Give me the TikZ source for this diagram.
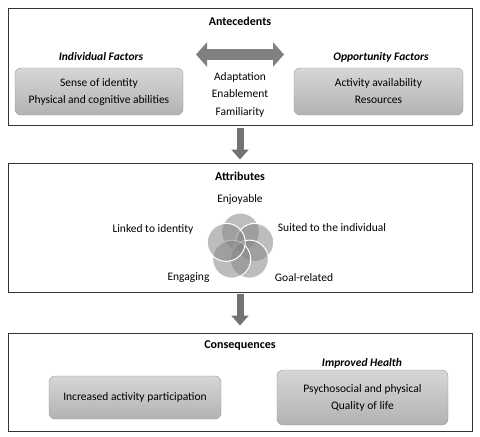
\documentclass[tikz,border=0pt]{standalone}
\usepackage{fontspec}
\setmainfont{Carlito}
\usetikzlibrary{arrows.meta, calc}
\tikzstyle{FrameBox}=[rectangle, draw=black!80, line width=1pt, fill=white]
\tikzstyle{GrayBox}=[rectangle, rounded corners=6pt, draw=black!40, top color=black!16, bottom color=black!30, align=center, font=\fontsize{11.5}{17}\selectfont]
\tikzstyle{TitleText}=[font=\fontsize{12}{14}\selectfont\bfseries]
\tikzstyle{HeadText}=[font=\fontsize{11.5}{14}\selectfont\bfseries\itshape]
\tikzstyle{PlainText}=[align=center, font=\fontsize{11.5}{17.5}\selectfont]
\tikzstyle{SetCircle}=[circle, minimum size=38pt, inner sep=0pt, fill=black!47, fill opacity=0.55, draw=white, draw opacity=1, line width=1pt]
\tikzstyle{FlowArrow}=[black!55, line width=7pt, -{Triangle[width=17pt, length=10pt]}]
\tikzstyle{SwapArrow}=[black!50, line width=11pt, {Triangle[width=24pt, length=11pt]}-{Triangle[width=24pt, length=11pt]}]

\begin{document}
\begin{tikzpicture}[x=1pt, y=-1pt]
\useasboundingbox (0,0) rectangle (480,437);

% antecedents
\node[FrameBox, minimum width=464pt, minimum height=117pt](Ante) at (240,66.5) {};
\node[TitleText](AnteTitle) at (240,21) {Antecedents};
\node[HeadText](IndHead) at (101,57) {Individual Factors};
\node[HeadText](OppHead) at (381,57) {Opportunity Factors};
\node[GrayBox, minimum width=168pt, minimum height=47pt](IndBox) at (99,91.5) {Sense of identity\\Physical and cognitive abilities};
\node[GrayBox, minimum width=169pt, minimum height=47pt](OppBox) at (378.5,91.5) {Activity availability\\Resources};
\node[PlainText](Links) at (240,94.5) {Adaptation\\Enablement\\Familiarity};
\coordinate (SwapL) at (196,54.5);
\coordinate (SwapR) at (284,54.5);
\draw[SwapArrow](SwapL) -- (SwapR);

% attributes
\node[FrameBox, minimum width=464pt, minimum height=129pt](Attr) at (240,227.5) {};
\node[TitleText](AttrTitle) at (240,176) {Attributes};
\node[SetCircle](C1) at ($(240.5,247)+(-90:15)$) {};
\node[SetCircle](C2) at ($(240.5,247)+(-18:15)$) {};
\node[SetCircle](C3) at ($(240.5,247)+(54:15)$) {};
\node[SetCircle](C4) at ($(240.5,247)+(126:15)$) {};
\node[SetCircle](C5) at ($(240.5,247)+(198:15)$) {};
\node[PlainText](Enjoy) at (240,199) {Enjoyable};
\node[PlainText](Suited) at (332,228) {Suited to the individual};
\node[PlainText](Goal) at (304,278) {Goal-related};
\node[PlainText](Engage) at (188.5,278) {Engaging};
\node[PlainText](Linked) at (153,229) {Linked to identity};

% consequences
\node[FrameBox, minimum width=464pt, minimum height=98pt](Cons) at (240,382) {};
\node[TitleText](ConsTitle) at (240,346) {Consequences};
\node[HeadText](HealthHead) at (362,363) {Improved Health};
\node[GrayBox, minimum width=172pt, minimum height=43pt](PartBox) at (135,397.5) {Increased activity participation};
\node[GrayBox, minimum width=171pt, minimum height=55pt](HealthBox) at (362.5,397.5) {Psychosocial and physical\\Quality of life};

\draw[FlowArrow, shorten <=2pt, shorten >=3pt](Ante) -- (Attr);
\draw[FlowArrow, shorten <=1pt, shorten >=7pt](Attr) -- (Cons);
\end{tikzpicture}
\end{document}
